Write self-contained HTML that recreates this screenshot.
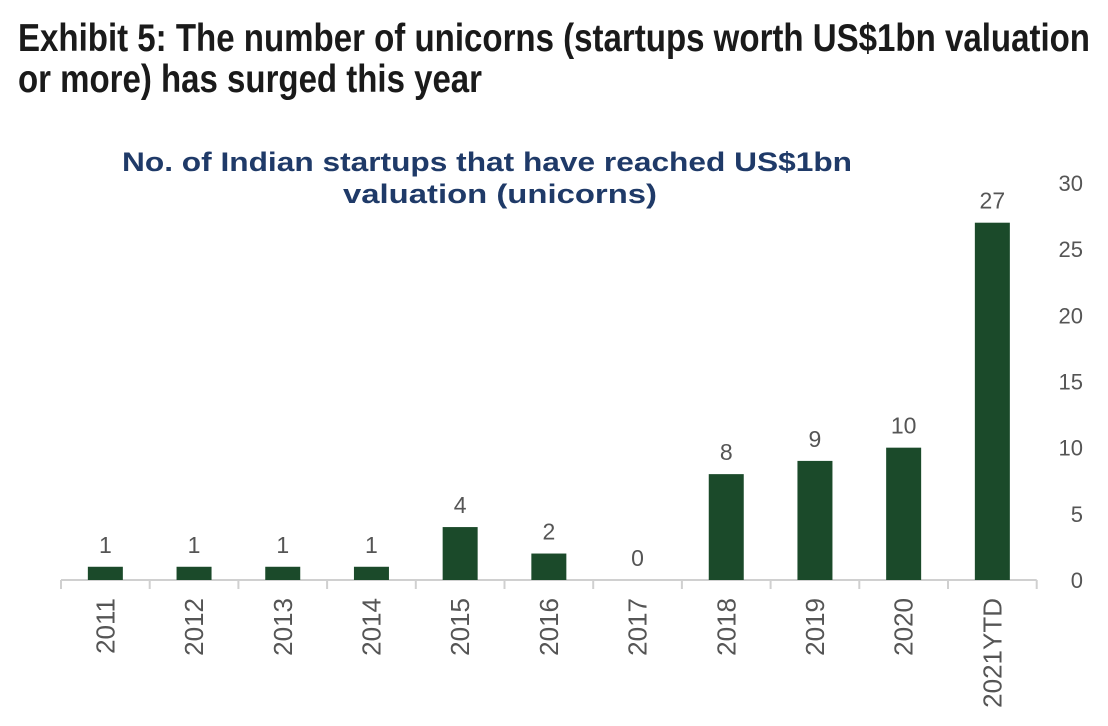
<!DOCTYPE html>
<html><head><meta charset="utf-8"><style>
html,body{margin:0;padding:0;background:#fff;}
svg{display:block;font-family:"Liberation Sans",sans-serif;}
</style></head><body>
<svg id="chart" width="1108" height="726" viewBox="0 0 1108 726" xmlns="http://www.w3.org/2000/svg">
<text x="18" y="51" font-size="39" font-weight="bold" fill="#1a1a1a" textLength="1072" lengthAdjust="spacingAndGlyphs">Exhibit 5: The number of unicorns (startups worth US$1bn valuation</text>
<text x="18" y="92" font-size="39" font-weight="bold" fill="#1a1a1a" textLength="464" lengthAdjust="spacingAndGlyphs">or more) has surged this year</text>
<text x="487" y="171" font-size="27" font-weight="bold" fill="#1f3a68" text-anchor="middle" textLength="730" lengthAdjust="spacingAndGlyphs">No. of Indian startups that have reached US$1bn</text>
<text x="500" y="203" font-size="27" font-weight="bold" fill="#1f3a68" text-anchor="middle" textLength="314" lengthAdjust="spacingAndGlyphs">valuation (unicorns)</text>
<g id="plot"></g>
</svg>
<script>
const categories = ["2011","2012","2013","2014","2015","2016","2017","2018","2019","2020","2021YTD"];
const values = [1,1,1,1,4,2,0,8,9,10,27];
const yTicks = [0,5,10,15,20,25,30];
const NS = "http://www.w3.org/2000/svg";
const g = document.getElementById("plot");
const x0 = 61, step = 88.7, y0 = 580, yMax = 30, yTop = 183;
function xScale(i){ return x0 + step*(i+0.5); }
function yScale(v){ return y0 - (y0 - yTop) * v / yMax; }
function mk(tag, attrs){ const e = document.createElementNS(NS, tag); for (const k in attrs) e.setAttribute(k, attrs[k]); g.appendChild(e); return e; }
const axis = mk("line",{x1:x0,y1:y0,x2:x0+step*categories.length,y2:y0,stroke:"#d0d0d0","stroke-width":2});


for (let i = 0; i <= categories.length; i++) {
  const t = mk("line",{x1:x0+step*i,y1:y0,x2:x0+step*i,y2:y0+9,stroke:"#d0d0d0","stroke-width":2});
  
  
}
categories.forEach((c, i) => {
  const cx = xScale(i), v = values[i];
  const bw = 35;
  if (v > 0) {
    const r = mk("rect",{x:cx-bw/2,y:yScale(v),width:bw,height:y0-yScale(v),fill:"#1b4a2a"});
    
    
  }
  const vl = mk("text",{x:cx,y:yScale(v)-14,"font-size":23,fill:"#555","text-anchor":"middle"});
  vl.textContent = v;
  
  
  const xl = mk("text",{x:0,y:0,"font-size":26,fill:"#555","text-anchor":"end",transform:`translate(${cx+9},598) rotate(-90)`});
  xl.textContent = c;
  
  
});
yTicks.forEach(t => {
  const yl = mk("text",{x:1083,y:yScale(t)+8,"font-size":22,fill:"#555","text-anchor":"end"});
  yl.textContent = t;
  
  
});
</script>
</body></html>
